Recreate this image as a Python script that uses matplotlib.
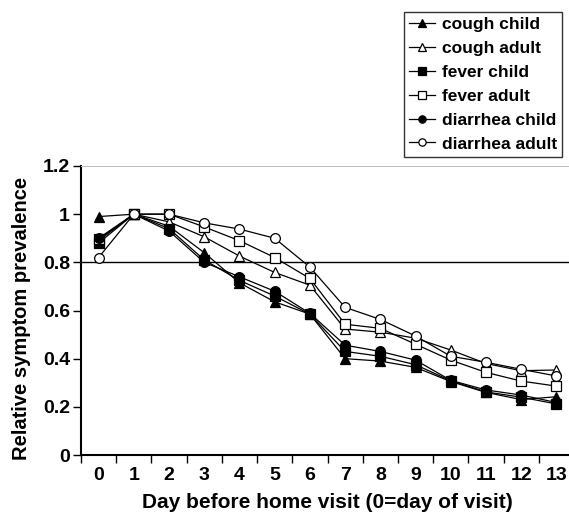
import matplotlib
matplotlib.use('Agg')
import matplotlib.pyplot as plt

days = list(range(14))
cough_child = [0.99, 1.00, 0.95, 0.84, 0.715, 0.636, 0.585, 0.40, 0.39, 0.364, 0.305, 0.26, 0.23, 0.242]
cough_adult = [0.89, 1.00, 0.968, 0.906, 0.826, 0.758, 0.705, 0.523, 0.51, 0.485, 0.436, 0.38, 0.35, 0.353]
fever_child = [0.88, 1.00, 0.94, 0.81, 0.725, 0.66, 0.585, 0.43, 0.41, 0.375, 0.308, 0.262, 0.24, 0.212]
fever_adult = [0.895, 1.00, 1.00, 0.947, 0.89, 0.82, 0.733, 0.543, 0.526, 0.46, 0.394, 0.343, 0.307, 0.286]
diarrhea_child = [0.90, 1.00, 0.93, 0.80, 0.74, 0.68, 0.588, 0.456, 0.43, 0.394, 0.31, 0.27, 0.249, 0.218]
diarrhea_adult = [0.82, 1.00, 1.00, 0.964, 0.938, 0.90, 0.78, 0.613, 0.563, 0.494, 0.41, 0.385, 0.356, 0.328]

series = [
    ('cough child', cough_child, '^', 'black'),
    ('cough adult', cough_adult, '^', 'white'),
    ('fever child', fever_child, 's', 'black'),
    ('fever adult', fever_adult, 's', 'white'),
    ('diarrhea child', diarrhea_child, 'o', 'black'),
    ('diarrhea adult', diarrhea_adult, 'o', 'white'),
]

plt.rcParams['font.family'] = ['Liberation Sans', 'DejaVu Sans']
plt.rcParams['font.weight'] = 'bold'

fig = plt.figure(figsize=(5.69, 5.13), dpi=100)
ax = fig.add_axes([81 / 569, 1 - 455 / 513, (574 - 81) / 569, (455 - 166) / 513])

handles = []
for name, vals, mk, fc in series:
    h, = ax.plot(days, vals, color='black', lw=0.9, marker=mk, markersize=7,
                 markerfacecolor=fc, markeredgecolor='black', markeredgewidth=0.9,
                 label=name)
    handles.append(h)

ax.axhline(0.8, color='black', lw=1, zorder=0)

ax.set_xlim(-0.5, 13.5)
ax.set_ylim(0, 1.2)
ax.set_xticks([d - 0.5 for d in days] + [13.5])
ax.set_xticklabels([])
ax.set_xticks(days, minor=True)
ax.set_xticklabels([str(d) for d in days], minor=True, fontsize=14, fontweight='bold')
ax.tick_params(axis='x', which='minor', length=0, pad=9)
ax.tick_params(axis='x', which='major', direction='out', length=6, width=1)
yt = [0, 0.2, 0.4, 0.6, 0.8, 1.0, 1.2]
ax.set_yticks(yt)
ax.set_yticklabels(['0', '0.2', '0.4', '0.6', '0.8', '1', '1.2'], fontsize=14, fontweight='bold')
ax.tick_params(axis='y', direction='out', length=6, width=1, pad=2)

ax.spines['right'].set_visible(False)
ax.spines['top'].set_color('#bbbbbb')
ax.spines['top'].set_linewidth(0.7)
ax.spines['left'].set_linewidth(1.5)
ax.spines['bottom'].set_linewidth(1.5)

fig.text(327 / 569, 1 - 502 / 513, 'Day before home visit (0=day of visit)',
         ha='center', va='center', fontsize=15, fontweight='bold')
fig.text(22 / 569, 1 - 318 / 513, 'Relative symptom prevalence', rotation=90,
         ha='center', va='center', fontsize=14.5, fontweight='bold')

leg = fig.legend(handles=handles, loc='upper right', bbox_to_anchor=(562 / 569, 1 - 12 / 513),
                 frameon=True, fancybox=False, edgecolor='black', handlelength=1.5,
                 handletextpad=0.35, borderpad=0.3, labelspacing=0.5, markerscale=0.75,
                 prop={'weight': 'bold', 'size': 12.5}, borderaxespad=0)
leg.get_frame().set_linewidth(1)

fig.savefig('out.png', dpi=100)
